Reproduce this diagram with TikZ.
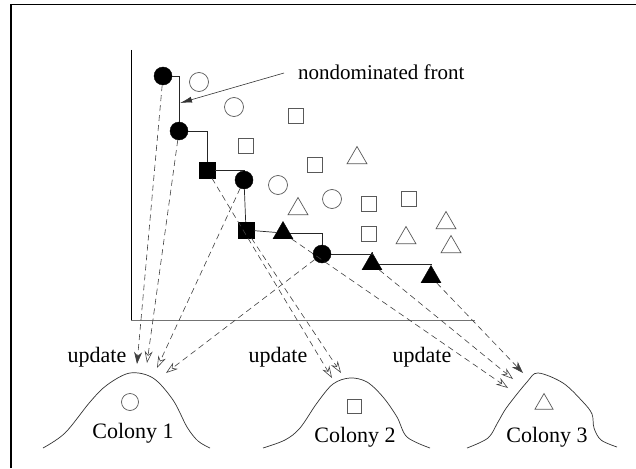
\documentclass[tikz,border=0pt]{standalone}
\usepackage{fontspec}
\setmainfont{Liberation Serif}
\usetikzlibrary{arrows.meta,shapes.geometric}
\begin{document}
\begin{tikzpicture}[x=1pt,y=-1pt,
  fc/.style={circle,fill=black,draw=black,minimum size=18pt,inner sep=0},
  oc/.style={circle,draw=black!65,line width=0.7pt,minimum size=19pt,inner sep=0},
  fs/.style={rectangle,fill=black,draw=black,minimum size=16pt,inner sep=0},
  os/.style={rectangle,draw=black!65,line width=0.7pt,minimum size=15pt,inner sep=0},
  ft/.style={regular polygon,regular polygon sides=3,fill=black,draw=black,minimum size=23pt,inner sep=0},
  ot/.style={regular polygon,regular polygon sides=3,draw=black!65,line width=0.7pt,minimum size=23pt,inner sep=0},
  frontline/.style={draw=black!85,line width=0.7pt},
  upd/.style={draw=black!75,line width=0.6pt,dash pattern=on 6pt off 4pt},
  openhead/.style={upd,-{Stealth[open,length=12pt,width=8pt]}},
  fullhead/.style={upd,-{Stealth[length=12pt,width=8pt]}},
  lbl/.style={font=\fontsize{22}{26}\selectfont,inner sep=0},
  toplbl/.style={font=\fontsize{21}{25}\selectfont,inner sep=0},
  hill/.style={draw=black!80,line width=0.7pt}
]
\useasboundingbox (0,0) rectangle (636,468);
% frame
\draw[line width=1.3pt] (11,468) -- (11,4.5) -- (636,4.5);
% axes
\draw[black,line width=0.7pt] (131,50) -- (131,320);
\draw[black!55,line width=0.9pt] (131,320) -- (475,320);

% nondominated points
\node[fc] (c1) at (163,76) {};
\node[fc] (c2) at (179,131) {};
\node[fs] (s5) at (207,170) {};
\node[fc] (c3) at (244,180) {};
\node[fs] (s6) at (246,230) {};
\node[ft] (t7) at (283,233) {};
\node[fc] (c4) at (322,254) {};
\node[ft] (t8) at (372,264) {};
\node[ft] (t9) at (431,277) {};

% dominated points
\node[oc] (o1) at (199,82) {};
\node[oc] (o2) at (234,107) {};
\node[oc] (o3) at (278,185) {};
\node[oc] (o4) at (332,199) {};
\node[os] (q1) at (296,116) {};
\node[os] (q2) at (246,146) {};
\node[os] (q3) at (315,165) {};
\node[os] (q4) at (369,204) {};
\node[os] (q5) at (409,199) {};
\node[os] (q6) at (369,234) {};
\node[ot] (r1) at (357,158) {};
\node[ot] (r2) at (298,209) {};
\node[ot] (r3) at (406,238) {};
\node[ot] (r4) at (446,223) {};
\node[ot] (r5) at (451,247) {};

% front line
\draw[frontline] (c1) -| (c2);
\draw[frontline] (c2) -| (s5);
\draw[frontline] (s5) -| (c3);
\draw[frontline] (c3) -- (s6);
\draw[frontline] (s6) -- (t7);
\draw[frontline] (t7) -| (c4);
\draw[frontline] (c4) -| (t8);
\draw[frontline] (t8) -| (t9);

% label
\node[toplbl,anchor=west] (nd) at (298,72) {nondominated front};
\coordinate (ndtip) at (180,103);
\draw[black!80,line width=0.6pt,-{Latex[length=12pt,width=6pt]}] (nd.west) ++(-14,1) -- (ndtip);

% colonies
\draw[hill] plot[smooth,tension=0.55] coordinates {(43,448) (65,433) (90,402) (107,385) (130,373) (153,378) (173,400) (187,427) (198,441) (210,448)};
\draw[hill] plot[smooth,tension=0.55] coordinates {(263,448) (285,440) (300,428) (317,403) (333,384) (350,378) (367,382) (383,397) (397,417) (407,437) (430,448)};
\draw[hill] plot[smooth,tension=0.55] coordinates {(467,448) (488,438) (498,422) (507,407) (527,382) (538,373) (563,383) (583,402) (592,414) (594,428) (601,440) (617,447)};

\node[oc,minimum size=17pt] (k1) at (130,402) {};
\node[os,minimum size=14pt] (k2) at (354,406) {};
\node[ot,minimum size=21pt] (k3) at (544,404) {};
\node[lbl] (col1) at (133,433) {Colony 1};
\node[lbl] (col2) at (355,437) {Colony 2};
\node[lbl] (col3) at (547,437) {Colony 3};

\node[lbl] (u1) at (97,357) {update};
\node[lbl] (u2) at (278,357) {update};
\node[lbl] (u3) at (422,357) {update};

% arrow tips
\coordinate (a1) at (137,364);
\coordinate (a2) at (147,363);
\coordinate (a3) at (157,368);
\coordinate (a4) at (166,373);
\coordinate (b1) at (332,378);
\coordinate (b2) at (341,373);
\coordinate (d1) at (508,388);
\coordinate (d2) at (513,379);
\coordinate (d3) at (523,373);

\draw[fullhead] (c1) -- (a1);
\draw[openhead] (c2) -- (a2);
\draw[openhead] (c3) -- (a3);
\draw[openhead] (c4) -- (a4);
\draw[openhead] (s5) -- (b1);
\draw[openhead] (s6) -- (b2);
\draw[openhead] (t7) -- (d1);
\draw[openhead] (t8) -- (d2);
\draw[fullhead] (t9) -- (d3);
\end{tikzpicture}
\end{document}
